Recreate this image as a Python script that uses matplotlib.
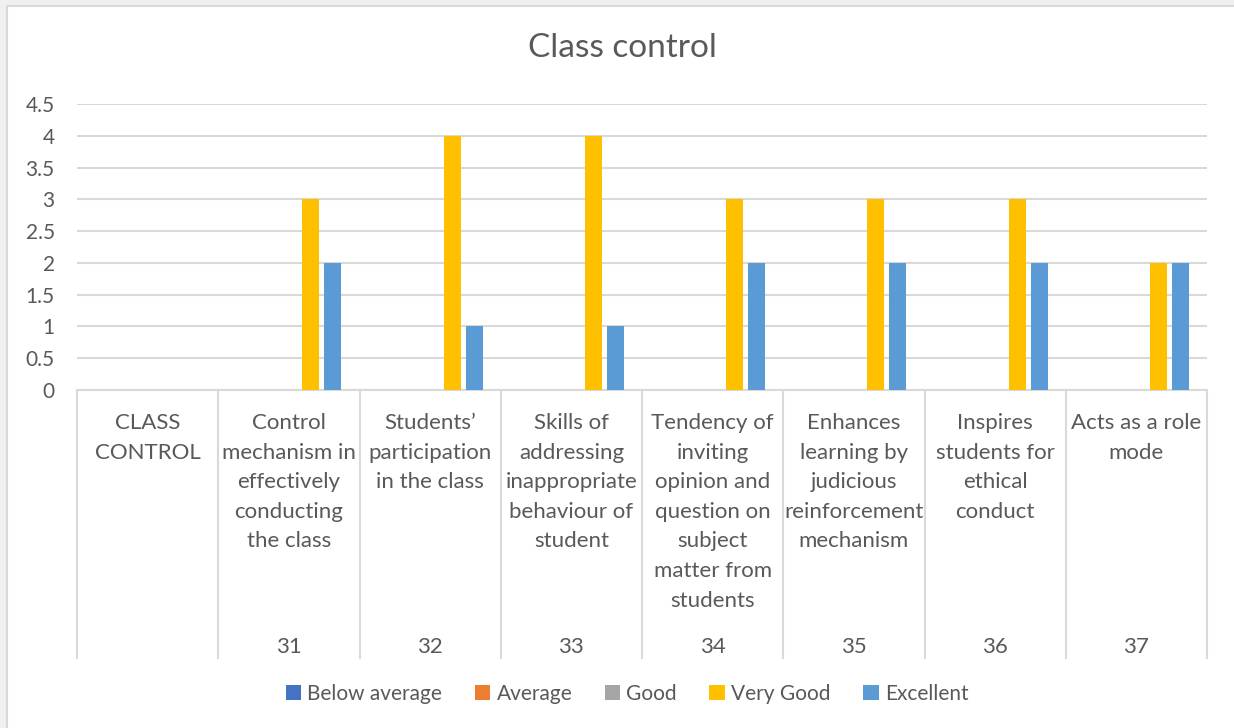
import numpy as np
import matplotlib
matplotlib.use("Agg")
import matplotlib.pyplot as plt
from matplotlib.patches import Rectangle, Patch
from matplotlib.lines import Line2D
import matplotlib.transforms as mtransforms

# --- data ---
categories = [
    "CLASS\nCONTROL",
    "Control\nmechanism in\neffectively\nconducting\nthe class",
    "Students’\nparticipation\nin the class",
    "Skills of\naddressing\ninappropriate\nbehaviour of\nstudent",
    "Tendency of\ninviting\nopinion and\nquestion on\nsubject\nmatter from\nstudents",
    "Enhances\nlearning by\njudicious\nreinforcement\nmechanism",
    "Inspires\nstudents for\nethical\nconduct",
    "Acts as a role\nmode",
]
item_numbers = ["", "31", "32", "33", "34", "35", "36", "37"]

series_names = ["Below average", "Average", "Good", "Very Good", "Excellent"]
below_average = [np.nan] * 8
average = [np.nan] * 8
good = [np.nan] * 8
very_good = [np.nan, 3, 4, 4, 3, 3, 3, 2]
excellent = [np.nan, 2, 1, 1, 2, 2, 2, 2]
series_values = [below_average, average, good, very_good, excellent]
series_colors = ["#4472C4", "#ED7D31", "#A5A5A5", "#FFC000", "#5B9BD5"]

y_ticks = [0, 0.5, 1, 1.5, 2, 2.5, 3, 3.5, 4, 4.5]

TEXT = "#595959"
GRID = "#d9d9d9"
plt.rcParams['font.family'] = ['Lato', 'DejaVu Sans']

W, H = 1234, 728
fig = plt.figure(figsize=(W / 100, H / 100), dpi=100)
fig.patch.set_facecolor("white")

# outer frame (cropped chart border)
fig.add_artist(Rectangle((0, 0), 6 / W, 1, transform=fig.transFigure, color="#f0f0f0", lw=0))
fig.add_artist(Rectangle((0, 1 - 5 / H), 1, 5 / H, transform=fig.transFigure, color="#f0f0f0", lw=0))
fig.add_artist(Line2D([6.5 / W, 6.5 / W], [0, 1 - 5.5 / H], transform=fig.transFigure, color=GRID, lw=1.5))
fig.add_artist(Line2D([6.5 / W, 1], [1 - 5.5 / H, 1 - 5.5 / H], transform=fig.transFigure, color=GRID, lw=1.5))

left, right, bottom, top = 77, 1207, 390, 104
ax = fig.add_axes([left / W, 1 - bottom / H, (right - left) / W, (bottom - top) / H])

n = len(categories)
x = np.arange(n)
step = 0.1557
width = 0.12
for j, (name, vals, col) in enumerate(zip(series_names, series_values, series_colors)):
    ax.bar(x + (j - 2) * step, vals, width=width, color=col, label=name, zorder=3)

ax.set_xlim(-0.5, n - 0.5)
ax.set_ylim(0, 4.5)
ax.set_yticks(y_ticks)
ax.set_yticklabels([f"{t:g}" for t in y_ticks])
ax.tick_params(axis="y", length=0, pad=16, labelsize=15, labelcolor=TEXT)
ax.set_xticks([])
ax.grid(axis="y", color=GRID, lw=1.5, zorder=0)
for s in ["left", "right", "top"]:
    ax.spines[s].set_visible(False)
ax.spines["bottom"].set_color(GRID)
ax.spines["bottom"].set_linewidth(1.5)

# multi-level category axis
ah = bottom - top
trans = mtransforms.blended_transform_factory(ax.transData, ax.transAxes)
for b in np.arange(n + 1) - 0.5:
    ax.plot([b, b], [0, -268 / ah], transform=trans, color=GRID, lw=1.5, clip_on=False)
for i, (lab, num) in enumerate(zip(categories, item_numbers)):
    ax.text(i, -23 / ah, lab, transform=trans, ha="center", va="top",
            fontsize=16, color=TEXT, linespacing=1.6)
    ax.text(i, -257 / ah, num, transform=trans, ha="center", va="center",
            fontsize=16, color=TEXT)

fig.text(622 / W, 1 - 48 / H, "Class control", ha="center", va="center",
         fontsize=24, color=TEXT)

handles = [Patch(facecolor=c, edgecolor="none") for c in series_colors]
fig.legend(handles, series_names, loc="center", bbox_to_anchor=(627 / W, 1 - 694 / H),
           ncol=5, frameon=False, fontsize=15, labelcolor=TEXT,
           handlelength=0.75, handleheight=0.75, handletextpad=0.3, columnspacing=1.55)

fig.savefig("out.png", dpi=100)
